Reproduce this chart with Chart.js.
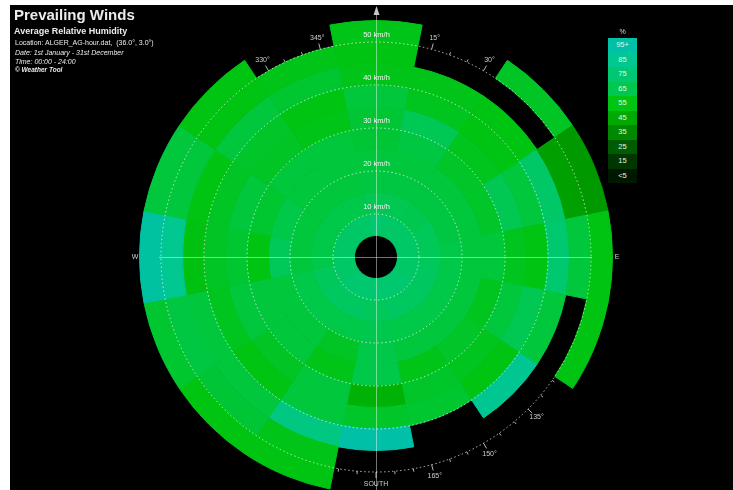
<!DOCTYPE html>
<html>
<head>
<meta charset="utf-8">
<script src="https://cdn.jsdelivr.net/npm/chart.js@4.4.1/dist/chart.umd.min.js"></script>
<style>
  html, body { margin: 0; padding: 0; background: #fff; }
  #wrap { position: relative; width: 733px; height: 490px; overflow: hidden; font-family: "Liberation Sans", Arial, sans-serif; }
  #bg { position: absolute; left: 10px; top: 5px; right: 0; bottom: 0; background: #000; }
  #rose { position: absolute; left: 0; top: 0; }
  .t { position: absolute; left: 14px; color: #ececec; white-space: nowrap; line-height: 1; z-index: 2; }
  #legend { position: absolute; left: 608px; top: 38px; width: 29px; z-index: 2; }
  #legend div { height: 14.5px; line-height: 14.5px; text-align: center; font-size: 7.5px; color: #e4f4e4; }
  #pct { position: absolute; left: 608px; width: 29px; top: 28px; text-align: center; font-size: 7px; color: #ddd; z-index: 2; }
</style>
</head>
<body>
<div id="wrap">
  <div id="bg"></div>
  <canvas id="rose" width="733" height="490"></canvas>
  <div class="t" style="top:7px;font-size:15px;font-weight:bold;">Prevailing Winds</div>
  <div class="t" style="top:27px;font-size:9px;font-weight:bold;">Average Relative Humidity</div>
  <div class="t" style="top:39px;font-size:7px;left:15px;">Location: ALGER_AG-hour.dat,&nbsp; (36.0°, 3.0°)</div>
  <div class="t" style="top:49px;font-size:7px;left:15px;font-style:italic;">Date: 1st January - 31st December</div>
  <div class="t" style="top:58px;font-size:7px;left:15px;font-style:italic;">Time: 00:00 - 24:00</div>
  <div class="t" style="top:67px;font-size:6.5px;left:15px;font-style:italic;font-weight:bold;">© Weather Tool</div>
  <div id="pct">%</div>
  <div id="legend"></div>
</div>
<script>
// 16 compass sectors, clockwise from north
const directions = ["N", "NNE", "NE", "ENE", "E", "ESE", "SE", "SSE", "S", "SSW", "SW", "WSW", "W", "WNW", "NW", "NNW"];
// wind speed bins (km/h), inner to outer
const speedBins = ["5-10", "10-15", "15-20", "20-25", "25-30", "30-35", "35-40", "40-45", "45-50", "50-55"];
const speedMin = 5;
const speedMax = 55;
const gridSpeeds = [10, 20, 30, 40, 50];

// average relative humidity (%) per direction, one value per speed bin; null = no wind in that bin
const humN   = [74, 66, 63, 62, 61, 61, 62, 56, 55, 56];
const humNNE = [72, 66, 63, 62, 63, 67, 57, 56, null, null];
const humNE  = [72, 65, 63, 62, 59, 57, 55, 55, null, 58];
const humENE = [72, 68, 63, 62, 59, 66, 62, 72, 42, 40];
const humE   = [72, 68, 64, 62, 62, 57, 55, 74, 62, 55];
const humESE = [72, 70, 64, 62, 57, 62, 66, 62, null, 55];
const humSE  = [74, 70, 64, 62, 59, 57, 55, 86, null, null];
const humSSE = [74, 70, 64, 62, 56, 59, 60, null, null, null];
const humS   = [74, 68, 65, 64, 64, 48, 59, 95, null, null];
const humSSW = [74, 70, 64, 58, 56, 62, 62, 80, 56, 55];
const humSW  = [74, 70, 64, 62, 62, 58, 55, 62, 61, 55];
const humWSW = [72, 68, 64, 62, 62, 62, 57, 62, 63, 60];
const humW   = [72, 64, 62, 68, 55, 60, 58, 54, 85, 92];
const humWNW = [72, 64, 62, 64, 60, 62, 58, 55, 62, 62];
const humNW  = [72, 64, 62, 62, 62, 58, 59, 62, 55, 55];
const humNNW = [72, 64, 62, 62, 62, 56, 55, 60, 56, null];
const humidityByDir = [humN, humNNE, humNE, humENE, humE, humESE, humSE, humSSE, humS, humSSW, humSW, humWSW, humW, humWNW, humNW, humNNW];

// colour scale
const scaleValues = [5, 15, 25, 35, 45, 55, 65, 75, 85, 95];
const scaleLabels = ["<5", "15", "25", "35", "45", "55", "65", "75", "85", "95+"];
const scaleColors = ["#001800", "#003600", "#005c00", "#008800", "#00aa00", "#00c412", "#00c84e", "#00c872", "#00c890", "#00c0a8"];

function hexRgb(h) {
  return [1, 3, 5].map((i) => parseInt(h.slice(i, i + 2), 16));
}

function cellColor(v) {
  if (v === null) return "rgba(0,0,0,0)";
  if (v <= scaleValues[0]) return scaleColors[0];
  const last = scaleValues.length - 1;
  if (v >= scaleValues[last]) return scaleColors[last];
  let i = 0;
  while (v > scaleValues[i + 1]) i++;
  const f = (v - scaleValues[i]) / (scaleValues[i + 1] - scaleValues[i]);
  const a = hexRgb(scaleColors[i]);
  const b = hexRgb(scaleColors[i + 1]);
  const c = a.map((x, k) => Math.round(x + (b[k] - x) * f));
  return `rgb(${c[0]},${c[1]},${c[2]})`;
}

// legend column
const legendEl = document.getElementById("legend");
legendEl.innerHTML = scaleLabels
  .map((l, i) => `<div style="background:${scaleColors[i]}">${l}</div>`)
  .reverse()
  .join("");

// one doughnut ring per speed bin; Chart.js puts dataset 0 outermost
const datasets = speedBins
  .map((label, b) => {
    const colors = directions.map((d, i) => cellColor(humidityByDir[i][b]));
    return {
      label: label + " km/h",
      data: directions.map(() => 1),
      backgroundColor: colors,
      borderColor: colors,
      borderWidth: 1,
      hoverOffset: 0,
    };
  })
  .reverse();

function geom(chart) {
  const outer = chart.getDatasetMeta(0).data[0];
  const inner = chart.getDatasetMeta(speedBins.length - 1).data[0];
  const k = (outer.outerRadius - inner.innerRadius) / (speedMax - speedMin);
  return { x: outer.x, y: outer.y, r: (v) => inner.innerRadius + (v - speedMin) * k };
}

function polar(g, r, deg) {
  const a = ((deg - 90) * Math.PI) / 180;
  return [g.x + r * Math.cos(a), g.y + r * Math.sin(a)];
}

const roseGrid = {
  id: "roseGrid",
  beforeDatasetsDraw(chart) {
    const g = geom(chart);
    const ctx = chart.ctx;
    const R = g.r(50);
    ctx.save();
    ctx.strokeStyle = "#b5b5b5";
    ctx.fillStyle = "#cfcfcf";
    ctx.lineWidth = 1;
    ctx.font = '7px "Liberation Sans", Arial, sans-serif';
    ctx.textAlign = "center";
    ctx.textBaseline = "middle";
    for (let deg = 5; deg < 360; deg += 5) {
      const major = deg % 15 === 0;
      const [x1, y1] = polar(g, R, deg);
      const [x2, y2] = polar(g, R + (major ? 6 : 3), deg);
      ctx.beginPath();
      ctx.moveTo(x1, y1);
      ctx.lineTo(x2, y2);
      ctx.stroke();
      if (major && deg % 90 !== 0) {
        const [lx, ly] = polar(g, R + 12, deg);
        ctx.fillText(deg + "°", lx, ly);
      }
    }
    let p = polar(g, R + 12, 180);
    ctx.fillText("SOUTH", p[0], p[1]);
    p = polar(g, R + 26, 90);
    ctx.fillText("E", p[0], p[1]);
    p = polar(g, R + 26, 270);
    ctx.fillText("W", p[0], p[1]);
    ctx.restore();
  },
  afterDatasetsDraw(chart) {
    const g = geom(chart);
    const ctx = chart.ctx;
    ctx.save();
    // dotted speed circles
    ctx.strokeStyle = "rgba(255,255,255,0.7)";
    ctx.lineWidth = 1;
    ctx.setLineDash([1.5, 2.5]);
    gridSpeeds.forEach((v) => {
      ctx.beginPath();
      ctx.arc(g.x, g.y, g.r(v), 0, Math.PI * 2);
      ctx.stroke();
    });
    ctx.setLineDash([]);
    // cross hairs
    const R = g.r(50);
    ctx.strokeStyle = "rgba(255,255,255,0.45)";
    ctx.beginPath();
    ctx.moveTo(g.x - R - 2, g.y + 0.5);
    ctx.lineTo(g.x + R + 1, g.y + 0.5);
    ctx.moveTo(g.x + 0.5, g.y - R - 27);
    ctx.lineTo(g.x + 0.5, g.y + R + 30);
    ctx.stroke();
    // north arrow
    ctx.fillStyle = "#c8c8c8";
    ctx.beginPath();
    ctx.moveTo(g.x + 0.5, g.y - R - 36);
    ctx.lineTo(g.x - 2.5, g.y - R - 27);
    ctx.lineTo(g.x + 3.5, g.y - R - 27);
    ctx.closePath();
    ctx.fill();
    // speed labels
    ctx.fillStyle = "#f2f2f2";
    ctx.font = '7.5px "Liberation Sans", Arial, sans-serif';
    ctx.textAlign = "center";
    ctx.textBaseline = "middle";
    gridSpeeds.forEach((v) => {
      ctx.fillText(v + " km/h", g.x + 0.5, g.y - g.r(v) - 7);
    });
    ctx.restore();
  },
};

new Chart(document.getElementById("rose"), {
  type: "doughnut",
  data: { labels: directions, datasets },
  options: {
    responsive: false,
    devicePixelRatio: 1,
    animation: false,
    events: [],
    rotation: -360 / directions.length / 2,
    circumference: 360,
    radius: 236.5,
    cutout: (100 * speedMin) / speedMax + "%",
    clip: false,
    layout: { padding: { left: 19, right: 0, top: 24, bottom: 0 } },
    plugins: { legend: { display: false }, tooltip: { enabled: false } },
  },
  plugins: [roseGrid],
});
</script>
</body>
</html>
